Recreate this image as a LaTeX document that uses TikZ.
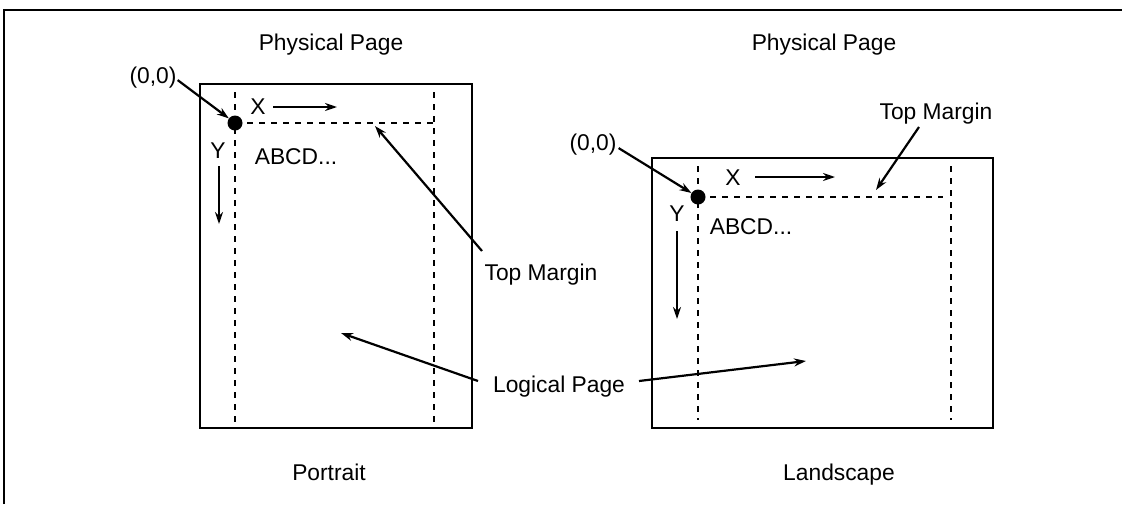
\documentclass[tikz,border=0pt]{standalone}
\usepackage{fontspec}
\setmainfont{Liberation Sans}
\usetikzlibrary{arrows.meta}
\begin{document}
\begin{tikzpicture}[x=1pt,y=-1pt,
  lbl/.style={inner sep=0pt, anchor=base, font=\fontsize{22.8}{26}\selectfont},
  pagebox/.style={draw, line width=2.9pt},
  margin/.style={line width=2.6pt, dash pattern=on 6pt off 6pt},
  ptr/.style={line width=2.2pt, -{Stealth[length=12pt,width=8pt]}},
  origin/.style={circle, fill=black, minimum size=15pt, inner sep=0pt},
]
\useasboundingbox (0,0) rectangle (1122,504);
% outer frame (top and left visible)
\draw[line width=2.8pt] (4,504) -- (4,10) -- (1122,10);

% ---------- Portrait ----------
\node[lbl] (pp1) at (331,50) {Physical Page};
\draw[pagebox] (200,84) rectangle (472,428);
\draw[margin] (235,92) -- (235,425);
\draw[margin] (434,92) -- (434,425);
\draw[margin] (235,123) -- (434,123);
\node[origin] (o1) at (235,123) {};
\node[lbl] (z1) at (153,83) {(0,0)};
\draw[ptr] ([shift={(1,3)}]z1.east) -- (o1);
\node[lbl] (x1) at (258,114) {X};
\coordinate (x1a) at (273,107);
\coordinate (x1b) at (337,107);
\draw[ptr] (x1a) -- (x1b);
\node[lbl] (y1) at (218,158) {Y};
\coordinate (y1a) at (219,166);
\coordinate (y1b) at (219,224);
\draw[ptr] (y1a) -- (y1b);
\node[lbl] (abcd1) at (296,164) {ABCD...};
\node[lbl] (tm1) at (541,280) {Top Margin};
\coordinate (tm1s) at (482,251);
\coordinate (tm1t) at (375,126);
\draw[ptr] (tm1s) -- (tm1t);
\node[lbl] (port) at (329,480) {Portrait};

% ---------- Logical Page ----------
\node[lbl] (lp) at (559,392) {Logical Page};
\coordinate (lpl) at (478,381);
\coordinate (lplt) at (341,333);
\coordinate (lpr) at (639,381);
\coordinate (lprt) at (806,361);
\draw[ptr] (lpl) -- (lplt);
\draw[ptr] (lpr) -- (lprt);

% ---------- Landscape ----------
\node[lbl] (pp2) at (824,50) {Physical Page};
\draw[pagebox] (652,158) rectangle (993,428);
\draw[margin] (698,166) -- (698,420);
\draw[margin] (951,166) -- (951,420);
\draw[margin] (698,197) -- (943,197);
\node[origin] (o2) at (698,197) {};
\node[lbl] (z2) at (593,150) {(0,0)};
\draw[ptr] ([shift={(2,4)}]z2.east) -- (o2);
\node[lbl] (x2) at (733,185) {X};
\coordinate (x2a) at (755,177);
\coordinate (x2b) at (835,177);
\draw[ptr] (x2a) -- (x2b);
\node[lbl] (y2) at (677,221) {Y};
\coordinate (y2a) at (677,231);
\coordinate (y2b) at (677,319);
\draw[ptr] (y2a) -- (y2b);
\node[lbl] (abcd2) at (751,234) {ABCD...};
\node[lbl] (tm2) at (936,119) {Top Margin};
\coordinate (tm2s) at (919,127);
\coordinate (tm2t) at (876,190);
\draw[ptr] (tm2s) -- (tm2t);
\node[lbl] (land) at (839,480) {Landscape};
\end{tikzpicture}
\end{document}
